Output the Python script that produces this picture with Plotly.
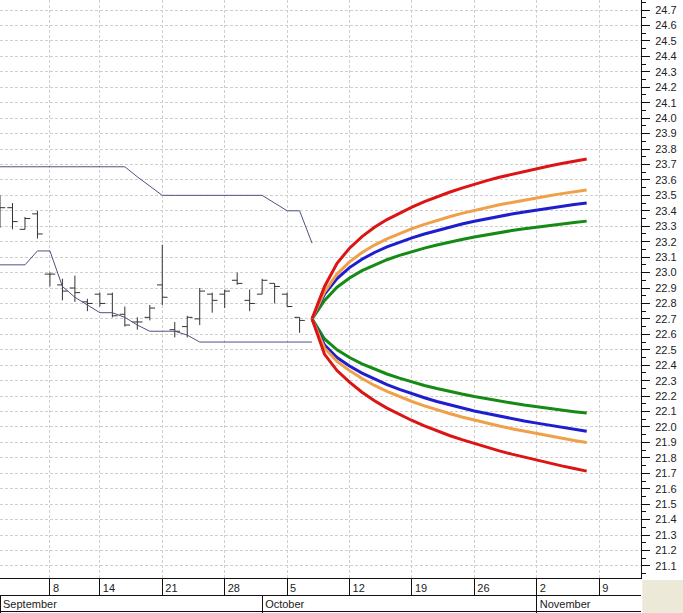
import pandas as pd
import plotly.graph_objects as go

# ── Trading calendar (Labor Day closed) ───────────────────────────────────────
trade_days = [d for d in pd.bdate_range("2009-09-01", "2009-11-13")
              if d != pd.Timestamp("2009-09-07")]
pos = {d.strftime("%Y-%m-%d"): i for i, d in enumerate(trade_days)}

# ── Price bars, Sep 1 – Oct 6 ────────────────────────────────────────────────
bar_dates = [d.strftime("%Y-%m-%d") for d in trade_days[:25]]
bar_open = [23.38, 23.42, 23.28, 23.38, 22.99, 22.92, 22.90, 22.81, 22.86, 22.86,
            22.73, 22.68, 22.71, 22.92, 22.63, 22.65, 22.70, 22.86, 22.86, 22.95,
            22.82, 22.86, 22.93, 22.86, 22.71]
bar_high = [23.50, 23.45, 23.36, 23.40, 23.00, 22.96, 22.98, 22.83, 22.87, 22.87,
            22.78, 22.71, 22.79, 23.18, 22.68, 22.72, 22.90, 22.87, 22.89, 23.00,
            22.89, 22.96, 22.93, 22.87, 22.71]
bar_low = [23.29, 23.28, 23.28, 23.22, 22.91, 22.82, 22.81, 22.75, 22.78, 22.71,
           22.65, 22.63, 22.69, 22.79, 22.58, 22.58, 22.66, 22.74, 22.77, 22.92,
           22.75, 22.86, 22.80, 22.78, 22.61]
bar_close = [23.42, 23.33, 23.35, 23.25, 22.99, 22.88, 22.87, 22.80, 22.80, 22.72,
             22.66, 22.68, 22.77, 22.84, 22.62, 22.71, 22.88, 22.82, 22.88, 22.93,
             22.80, 22.95, 22.91, 22.78, 22.69]

# ── Channel lines, Sep 1 – Oct 7 ─────────────────────────────────────────────
chan_dates = [d.strftime("%Y-%m-%d") for d in trade_days[:26]]
chan_upper = [23.685] * 11 + [23.62, 23.56] + [23.50] * 9 + [23.45, 23.40, 23.40, 23.19]
chan_lower = [23.05, 23.05, 23.05, 23.14, 23.14, 22.91, 22.84, 22.79, 22.74, 22.74,
              22.71, 22.66, 22.62, 22.62, 22.62, 22.595] + [22.55] * 10

# ── Projection fan, Oct 7 – Nov 6 ────────────────────────────────────────────
fan_dates = [d.strftime("%Y-%m-%d") for d in trade_days[25:48]]
red_up = [22.70, 22.91, 23.06, 23.158, 23.233, 23.293, 23.343, 23.386, 23.424, 23.459, 23.491,
          23.52, 23.547, 23.572, 23.595, 23.617, 23.636, 23.655, 23.673, 23.69, 23.706, 23.721, 23.735]
orange_up = [22.70, 22.875, 22.99, 23.069, 23.13, 23.178, 23.218, 23.253, 23.284, 23.312, 23.338,
             23.361, 23.383, 23.403, 23.421, 23.439, 23.454, 23.47, 23.484, 23.498, 23.511, 23.523, 23.534]
blue_up = [22.70, 22.86, 22.961, 23.032, 23.086, 23.13, 23.166, 23.197, 23.225, 23.25, 23.273,
           23.295, 23.314, 23.332, 23.349, 23.364, 23.379, 23.392, 23.405, 23.418, 23.429, 23.44, 23.45]
green_up = [22.70, 22.82, 22.905, 22.965, 23.012, 23.05, 23.083, 23.111, 23.136, 23.158, 23.178,
            23.197, 23.214, 23.23, 23.245, 23.259, 23.272, 23.284, 23.295, 23.305, 23.315, 23.324, 23.333]
red_dn = [22.70, 22.47, 22.365, 22.29, 22.225, 22.17, 22.122, 22.08, 22.042, 22.007, 21.975,
          21.945, 21.918, 21.892, 21.868, 21.845, 21.824, 21.804, 21.785, 21.766, 21.748, 21.731, 21.714]
orange_dn = [22.70, 22.51, 22.425, 22.365, 22.314, 22.269, 22.23, 22.196, 22.165, 22.137, 22.111,
             22.087, 22.065, 22.044, 22.025, 22.006, 21.989, 21.973, 21.957, 21.942, 21.927, 21.913, 21.90]
blue_dn = [22.70, 22.53, 22.45, 22.395, 22.349, 22.309, 22.274, 22.243, 22.214, 22.189, 22.165,
           22.143, 22.123, 22.104, 22.087, 22.07, 22.054, 22.039, 22.025, 22.011, 21.998, 21.985, 21.973]
green_dn = [22.70, 22.57, 22.50, 22.45, 22.409, 22.374, 22.343, 22.316, 22.291, 22.269, 22.249,
            22.23, 22.213, 22.197, 22.182, 22.168, 22.155, 22.142, 22.13, 22.119, 22.109, 22.099, 22.09]

# ── Axis labels ──────────────────────────────────────────────────────────────
week_dates = ["2009-09-08", "2009-09-14", "2009-09-21", "2009-09-28", "2009-10-05",
              "2009-10-12", "2009-10-19", "2009-10-26", "2009-11-02", "2009-11-09"]
week_labels = ["8", "14", "21", "28", "5", "12", "19", "26", "2", "9"]
month_dates = ["2009-09-01", "2009-10-01", "2009-11-02"]
month_labels = ["September", "October", "November"]

FONT = dict(family="Liberation Sans, Arial, sans-serif", size=11, color="#222222")
GRID = "#cfcfcf"

fig = go.Figure()

fig.add_trace(
    go.Ohlc(
        x=[pos[d] for d in bar_dates],
        open=bar_open, high=bar_high, low=bar_low, close=bar_close,
        increasing=dict(line=dict(color="#333333", width=1)),
        decreasing=dict(line=dict(color="#333333", width=1)),
        tickwidth=0.42,
        showlegend=False,
    )
)

for vals in (chan_upper, chan_lower):
    fig.add_trace(
        go.Scatter(
            x=[pos[d] for d in chan_dates], y=vals, mode="lines",
            line=dict(color="#4e5280", width=1), showlegend=False,
        )
    )

fan_x = [pos[d] for d in fan_dates]
for vals, color in ((green_up, "#158a15"), (blue_up, "#1e1ecc"), (orange_up, "#f0a048"),
                    (red_up, "#dc1414"), (green_dn, "#158a15"), (blue_dn, "#1e1ecc"),
                    (orange_dn, "#f0a048"), (red_dn, "#dc1414")):
    fig.add_trace(
        go.Scatter(x=fan_x, y=vals, mode="lines",
                   line=dict(color=color, width=3), showlegend=False)
    )

# empty traces so the extra bottom axes get drawn
fig.add_trace(go.Scatter(x=[], y=[], xaxis="x2", showlegend=False))
fig.add_trace(go.Scatter(x=[], y=[], xaxis="x3", showlegend=False))

# window-frame colour in the bottom-right corner
fig.add_shape(type="rect", xref="paper", yref="paper", x0=1.002, x1=1.1,
              y0=-0.01, y1=31 / 611, fillcolor="#ece9d8", line=dict(width=0),
              layer="below")

x_range = [0, 51.35]
fig.update_layout(
    width=683, height=613,
    margin=dict(l=0, r=42, t=0, b=2, autoexpand=False),
    paper_bgcolor="white", plot_bgcolor="white",
    font=FONT,
    showlegend=False,
    xaxis=dict(
        range=x_range, tickmode="array",
        tickvals=[pos[d] for d in week_dates], ticktext=week_labels,
        ticks="outside", ticklen=17, tickcolor="#111111", tickwidth=1,
        ticklabelposition="outside right", ticklabelstandoff=0, ticklabelshift=2,
        showline=True, linecolor="#111111", linewidth=1,
        showgrid=True, gridcolor=GRID, griddash="3px,2px", gridwidth=1,
        zeroline=False, rangeslider=dict(visible=False),
    ),
    xaxis2=dict(
        range=x_range, overlaying="x", anchor="free", position=16 / 611,
        tickmode="array", tickvals=[pos[d] for d in month_dates], ticktext=month_labels,
        ticks="outside", ticklen=17, tickcolor="#111111", tickwidth=1,
        ticklabelposition="outside right", ticklabelstandoff=-1, ticklabelshift=2,
        showline=True, linecolor="#111111", linewidth=1,
        showgrid=False, zeroline=False,
    ),
    xaxis3=dict(
        range=x_range, overlaying="x", anchor="free", position=0,
        showline=True, linecolor="#111111", linewidth=1,
        showticklabels=False, ticks="", showgrid=False, zeroline=False,
    ),
    yaxis=dict(
        domain=[33 / 611, 1], range=[21.022, 24.765], side="right",
        tickmode="linear", tick0=21.0, dtick=0.1, tickformat=".1f",
        ticks="outside", ticklen=8, tickcolor="#111111",
        minor=dict(ticks="outside", ticklen=4, tickcolor="#111111", dtick=0.05, showgrid=False),
        ticklabelstandoff=3,
        showline=True, linecolor="#111111", linewidth=1,
        showgrid=True, gridcolor=GRID, griddash="3px,2px", gridwidth=1,
        zeroline=False,
    ),
)

# browser default body margin would shift the figure by 8px
fig.write_html("out.html", config={"displayModeBar": False},
               post_script="document.body.style.margin='0';")
